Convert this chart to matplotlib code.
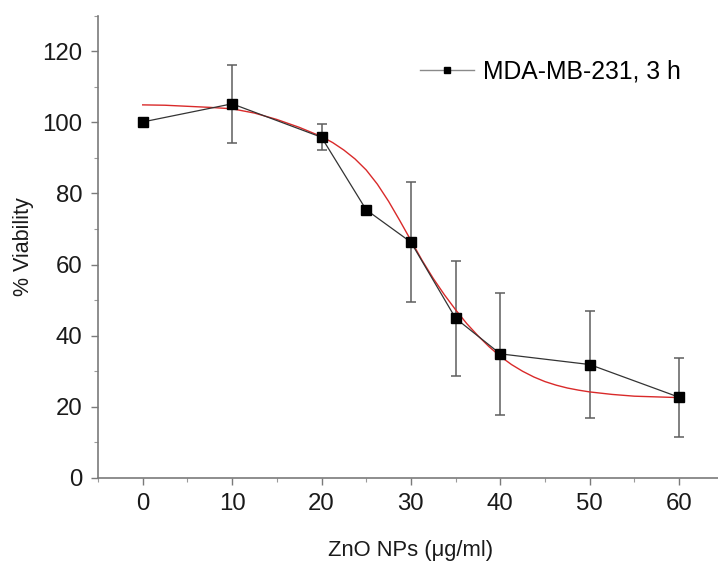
import matplotlib
matplotlib.use('Agg')
import matplotlib.pyplot as plt
from matplotlib.ticker import MultipleLocator

plt.rcParams['font.family'] = ['Liberation Sans', 'DejaVu Sans']

# measured points with standard deviations
dose = [0, 10, 20, 25, 30, 35, 40, 50, 60]
viability = [100.1, 105.2, 95.8, 75.4, 66.3, 44.9, 34.9, 31.9, 22.7]
viability_err = [0, 10.9, 3.6, 0, 16.9, 16.1, 17.2, 15.0, 11.1]

# red sigmoidal fit curve
fit_dose = [0, 2.5, 5, 7.5, 10, 12.5, 15, 17.5, 20, 21.25, 22.5, 23.75, 25,
            26.25, 27.5, 28.75, 30, 31.25, 32.5, 33.75, 35, 36.25, 37.5,
            38.75, 40, 41.25, 42.5, 43.75, 45, 46.25, 47.5, 48.75, 50,
            52.5, 55, 57.5, 60]
fit_viability = [104.9, 104.8, 104.5, 104.2, 103.8, 102.6, 100.8, 98.6, 96.0,
                 94.3, 92.2, 89.7, 86.6, 82.6, 77.8, 72.4, 66.8, 61.2, 56.1,
                 51.5, 47.3, 43.4, 40.0, 36.9, 34.2, 31.9, 30.0, 28.4, 27.1,
                 26.1, 25.3, 24.7, 24.2, 23.5, 23.0, 22.8, 22.6]

series_label = 'MDA-MB-231, 3 h'

fig = plt.figure(figsize=(7.18, 5.63), dpi=100)
ax = fig.add_axes([98 / 718, 1 - 478 / 563, (723.8 - 98) / 718, (478 - 15.6) / 563])

ax.errorbar(dose, viability, yerr=viability_err, fmt='none', ecolor='#5e5e5e',
            elinewidth=1.1, capsize=3.3, capthick=1.1, zorder=2)
ax.plot(fit_dose, fit_viability, color='#d92a2a', lw=1.0, zorder=3)
ax.plot(dose, viability, color='#333333', lw=0.9, marker='s', ms=6.6,
        mfc='black', mec='black', zorder=4)

# legend entry drawn in gray like the original
leg_line, = ax.plot([], [], color='#8a8a8a', lw=1.0, marker='s', ms=4.5,
                    mfc='black', mec='black')
ax.legend([leg_line], [series_label], loc='center left',
          bbox_to_anchor=(420 / 718, 1 - 72 / 563), bbox_transform=fig.transFigure,
          frameon=False, fontsize=17.8, handlelength=2.2, handletextpad=0.35,
          borderpad=0, borderaxespad=0)

ax.set_xlim(-5, 65)
ax.set_ylim(0, 130)
ax.xaxis.set_major_locator(MultipleLocator(10))
ax.xaxis.set_minor_locator(MultipleLocator(5))
ax.yaxis.set_major_locator(MultipleLocator(20))
ax.yaxis.set_minor_locator(MultipleLocator(10))

for side in ['top', 'right']:
    ax.spines[side].set_visible(False)
for side in ['left', 'bottom']:
    ax.spines[side].set_color('#7a7a7a')
    ax.spines[side].set_linewidth(1.2)

ax.tick_params(which='major', direction='out', length=5, width=1.0,
               color='#7a7a7a', labelsize=17.3, labelcolor='#1a1a1a', pad=6)
ax.tick_params(which='minor', direction='out', length=3, width=0.8, color='#9a9a9a')

ax.set_xlabel('ZnO NPs (μg/ml)', fontsize=15.8, color='#1a1a1a', labelpad=18)
ax.set_ylabel('% Viability', fontsize=15.5, color='#1a1a1a', labelpad=6)

fig.savefig('out.png', dpi=100)
